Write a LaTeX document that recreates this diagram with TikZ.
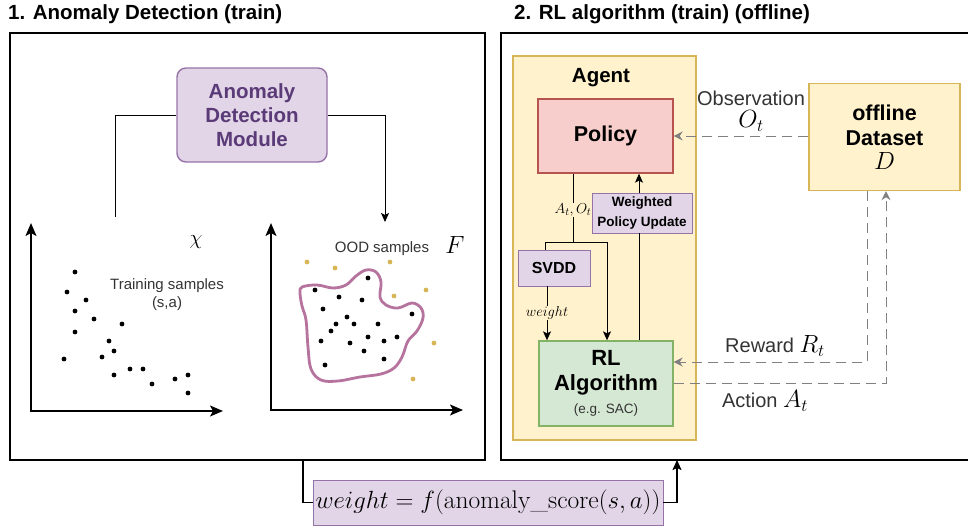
\documentclass[tikz,border=0pt]{standalone}
\usepackage{fontspec}
\setsansfont{Liberation Sans}
\usepackage{amsmath}
\usepackage{tikz}
\usetikzlibrary{
  arrows.meta,
  positioning,
  calc
}
\definecolor{adFill}{HTML}{E1D5E7}
\definecolor{adLine}{HTML}{9673A6}
\definecolor{adText}{HTML}{5B3A78}
\definecolor{agFill}{HTML}{FFF2CC}
\definecolor{agLine}{HTML}{D6B656}
\definecolor{polFill}{HTML}{F8CECC}
\definecolor{polLine}{HTML}{B85450}
\definecolor{rlFill}{HTML}{D5E8D4}
\definecolor{rlLine}{HTML}{82B366}
\definecolor{blobLine}{HTML}{B5739D}
\definecolor{oodDot}{HTML}{D6B656}
\definecolor{dashGray}{HTML}{808080}
\definecolor{txtGray}{HTML}{333333}
\tikzset{
  box/.style={
    draw, line width=1.4pt, inner sep=0pt, align=center,
    font=\sffamily\bfseries\fontsize{21.5}{25}\selectfont
  },
  admodule/.style={box, rounded corners=9pt, fill=adFill, draw=adLine, text=adText,
    minimum width=150pt, minimum height=94pt, font=\sffamily\bfseries\fontsize{20.5}{24}\selectfont},
  agentbox/.style={box, fill=agFill, draw=agLine, line width=1.6pt},
  policybox/.style={box, fill=polFill, draw=polLine, minimum width=135pt, minimum height=74pt},
  rlbox/.style={box, fill=rlFill, draw=rlLine, minimum width=134pt, minimum height=85pt},
  smallbox/.style={box, fill=adFill, draw=adLine, line width=0.9pt},
  databox/.style={box, fill=agFill, draw=agLine, minimum width=151pt, minimum height=107pt},
  paneltitle/.style={font=\sffamily\bfseries\fontsize{20.5}{24}\selectfont, inner sep=0pt},
  panel/.style={line width=1.6pt},
  link/.style={line width=0.9pt},
  arrow/.style={link, -{Stealth[length=9pt, width=8pt, inset=2pt]}},
  axis/.style={line width=1.4pt, {Stealth[length=13pt, width=11pt, inset=3pt]}-{Stealth[length=13pt, width=11pt, inset=3pt]}},
  dataflow/.style={line width=1pt, dashGray, dash pattern=on 10pt off 6pt,
    -{Stealth[length=9pt, width=9pt, inset=3pt]}},
  flowline/.style={line width=1.8pt},
  edgetag/.style={fill=agFill, inner sep=0.5pt, font=\fontsize{15}{17}\selectfont},
  plottag/.style={font=\sffamily\fontsize{15}{18}\selectfont, text=txtGray, align=center, inner sep=0pt},
  flowtag/.style={font=\sffamily\fontsize{20}{23}\selectfont, text=txtGray, align=center, inner sep=0pt},
  sample/.style={fill=black},
  oodsample/.style={fill=oodDot}
}

\begin{document}
\begin{tikzpicture}[x=1pt, y=-1pt]
  \useasboundingbox (0,0) rectangle (968,527);
  % panels
  \node[paneltitle, anchor=west] (title1) at (8,14) {1. Anomaly Detection (train)};
  \node[paneltitle, anchor=west] (title2) at (514,14) {2. RL algorithm (train) (offline)};
  \draw[panel] (10,33) rectangle (485,460);
  \draw[panel] (968,33) -- (501,33) -- (501,460) -- (968,460);

  % anomaly detection module
  \node[admodule] (admod) at (252,115) {Anomaly\\Detection\\Module};
  \coordinate (trainTop) at (115,217);
  \coordinate (oodTop) at (385,222);
  \draw[link] (trainTop) |- (admod.west);
  \draw[arrow] (admod.east) -| (oodTop);

  % training samples plot
  \coordinate (o1) at (31,411);
  \draw[axis] (31,223) -- (o1) -- (223,411);
  \node[plottag] (traintag) at (167,295) {Training samples\\(s,a)};
  \node[font=\fontsize{22}{24}\selectfont] (chi) at (196,242) {$\chi$};
  \foreach \p in {(75,272),(67,292),(86,300),(75,311),(94,319),(122,324),(75,332),
                  (109,341),(114,351),(102,357),(64,359),(130,369),(143,369),(114,375),
                  (175,379),(188,375),(152,384),(188,393)}
    \fill[sample] \p circle (2.4);

  % OOD plot
  \coordinate (o2) at (271,410);
  \draw[axis] (271,223) -- (o2) -- (463,410);
  \node[plottag] (oodtag) at (382,249) {OOD samples};
  \node[font=\fontsize{26}{28}\selectfont] (fset) at (455,245) {$F$};
  \draw[blobLine, line width=2.8pt] plot[smooth cycle, tension=0.6] coordinates {
    (302,287) (317,285) (333,288) (346,285) (356,276) (366,270) (376,272) (381,282)
    (380,297) (386,305) (398,308) (412,303) (421,308) (423,318) (417,331) (408,341)
    (402,357) (394,368) (381,374) (360,377) (338,381) (321,380) (311,369) (308,347)
    (306,320) (302,306) (300,293)};
  \foreach \p in {(368,278),(315,290),(339,297),(362,300),(323,309),(412,314),(347,317),
                  (336,324),(354,324),(378,324),(331,331),(368,337),(397,337),(321,341),
                  (350,343),(384,341),(364,351),(384,359),(325,365)}
    \fill[sample] \p circle (2.4);
  \foreach \p in {(307,262),(335,268),(390,262),(394,296),(426,290),(434,343),(413,379)}
    \fill[oodsample] \p circle (2.4);

  % agent
  \node[agentbox, minimum width=183pt, minimum height=384pt] (agent) at (604.5,248) {};
  \node[paneltitle] (agenttag) at (601,78) {Agent};
  \node[policybox] (policy) at (605.5,136) {Policy};
  \node[smallbox, minimum width=100pt, minimum height=40pt,
        font=\sffamily\bfseries\fontsize{13.5}{20}\selectfont] (wpu) at (642,213) {Weighted\\Policy Update};
  \node[smallbox, minimum width=72pt, minimum height=36pt,
        font=\sffamily\bfseries\fontsize{16}{19}\selectfont] (svdd) at (554,268) {SVDD};
  \node[rlbox, font=\sffamily\bfseries\fontsize{22}{25}\selectfont] (rl) at (606,383.5)
        {RL\\Algorithm\\[-2pt]{\mdseries\fontsize{13.5}{16}\selectfont\color{txtGray}(e.g. SAC)}};

  \coordinate (fork) at (573,242);
  \coordinate (forkL) at (545,242);
  \coordinate (forkR) at (607,242);
  \draw[link] (fork |- policy.south) -- node[edgetag, pos=0.53] {$A_t,O_t$} (fork);
  \draw[link] (forkL |- svdd.north) -- (forkL) -- (forkR);
  \draw[arrow] (forkR) -- (forkR |- rl.north);
  \draw[arrow] ([xshift=-7pt]svdd.south) -- node[edgetag] {$weight$} ([xshift=-7pt]svdd.south |- rl.north);
  \draw[link] ([xshift=-3pt]wpu.south |- rl.north) -- ([xshift=-3pt]wpu.south);
  \draw[arrow] ([xshift=-3pt]wpu.north) -- ([xshift=-3pt]wpu.north |- policy.south);

  % offline dataset
  \node[databox] (data) at (884.5,137) {offline\\Dataset\\[-1pt]{\mdseries\fontsize{24}{26}\selectfont$D$}};
  \draw[dataflow] (data.west |- policy.east) -- (policy.east);
  \node[flowtag] (obstag) at (751,111) {Observation\\[-1pt]{\fontsize{24}{26}\selectfont\color{black}$O_t$}};

  \coordinate (rwdCorner) at (867,362);
  \coordinate (actCorner) at (886,383);
  \draw[dataflow] (data.south -| rwdCorner) -- (rwdCorner) -- (rwdCorner -| rl.east);
  \draw[dataflow] (actCorner -| rl.east) -- (actCorner) -- (actCorner |- data.south);
  \node[flowtag] (rwdtag) at (775,346) {Reward {\fontsize{27}{28}\selectfont\color{black}$R_t$}};
  \node[flowtag] (acttag) at (765,401) {Action {\fontsize{27}{28}\selectfont\color{black}$A_t$}};

  % weight passed from panel 1 to panel 2
  \node[smallbox, minimum width=350pt, minimum height=45pt,
        font=\fontsize{25.5}{27}\selectfont] (formula) at (488,502.5)
        {$weight = f(\text{anomaly\_score}(s,a))$};
  \coordinate (adOut) at (303,460);
  \coordinate (rlIn) at (677,460);
  \draw[flowline] (adOut) |- (formula.west);
  \draw[flowline, -{Stealth[length=10pt, width=9pt, inset=2pt]}] (formula.east) -| (rlIn);
\end{tikzpicture}
\end{document}
